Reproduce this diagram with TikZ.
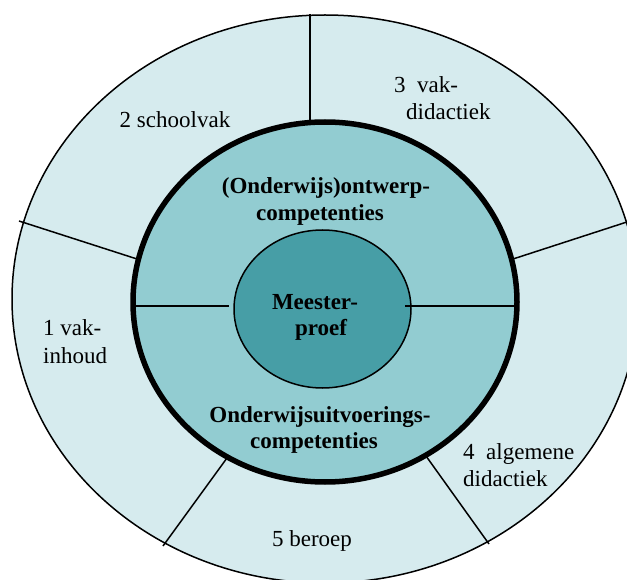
\documentclass[tikz,border=0pt]{standalone}
\usepackage{fontspec}
\setmainfont{Liberation Serif}
\definecolor{outerc}{RGB}{214,235,238}
\definecolor{innerc}{RGB}{146,204,209}
\definecolor{corec}{RGB}{71,158,166}
\begin{document}
\begin{tikzpicture}[x=1pt,y=-1pt,
  lbl/.style={inner sep=0pt, font=\fontsize{23}{28}\selectfont},
  blbl/.style={inner sep=0pt, font=\fontsize{23}{28}\selectfont\bfseries},
  divline/.style={line width=1.5pt}]
\useasboundingbox (0,0) rectangle (627,580);
\clip (0,0) rectangle (627,580);
% outer ring
\filldraw[fill=outerc, line width=1.5pt] (325,299) ellipse [x radius=313, y radius=284];
% dividers of the outer ring
\coordinate (d1a) at (310,14);  \coordinate (d1b) at (310,124);
\coordinate (d2a) at (19,221);  \coordinate (d2b) at (137,259);
\coordinate (d3a) at (630,221); \coordinate (d3b) at (513,259);
\coordinate (d4a) at (489,544); \coordinate (d4b) at (426,456);
\coordinate (d5a) at (163,546); \coordinate (d5b) at (227,458);
\draw[divline] (d1a) -- (d1b);
\draw[divline] (d2a) -- (d2b);
\draw[divline] (d3a) -- (d3b);
\draw[divline] (d4a) -- (d4b);
\draw[divline] (d5a) -- (d5b);
% inner ring
\filldraw[fill=innerc, line width=5.5pt] (325,302) ellipse [x radius=192, y radius=180];
% core
\filldraw[fill=corec, line width=1.5pt] (322.5,309) ellipse [x radius=88.5, y radius=79];
% horizontal split
\coordinate (hla) at (134,306); \coordinate (hlb) at (229,306);
\coordinate (hra) at (405,306); \coordinate (hrb) at (516,306);
\draw[divline] (hla) -- (hlb);
\draw[divline] (hra) -- (hrb);
% outer ring labels
\node[lbl, anchor=base] (s2) at (175,128) {2 schoolvak};
\node[lbl, anchor=base west] (s3a) at (394,92.5) {3\ \ vak-};
\node[lbl, anchor=base west] (s3b) at (406,120) {didactiek};
\node[lbl, anchor=base west] (s1a) at (43,335) {1 vak-};
\node[lbl, anchor=base west] (s1b) at (43,363) {inhoud};
\node[lbl, anchor=base west] (s4a) at (463,459) {4\ \ algemene};
\node[lbl, anchor=base west] (s4b) at (463,486) {didactiek};
\node[lbl, anchor=base] (s5) at (312,546) {5 beroep};
% inner ring labels
\node[blbl, anchor=base] (o1) at (326,194) {(Onderwijs)ontwerp-};
\node[blbl, anchor=base] (o2) at (320,221) {competenties};
\node[blbl, anchor=base] (u1) at (320,422) {Onderwijsuitvoerings-};
\node[blbl, anchor=base] (u2) at (314,448) {competenties};
% core labels
\node[blbl, anchor=base] (m1) at (315,309) {Meester-};
\node[blbl, anchor=base] (m2) at (321,335) {proef};
\end{tikzpicture}
\end{document}
